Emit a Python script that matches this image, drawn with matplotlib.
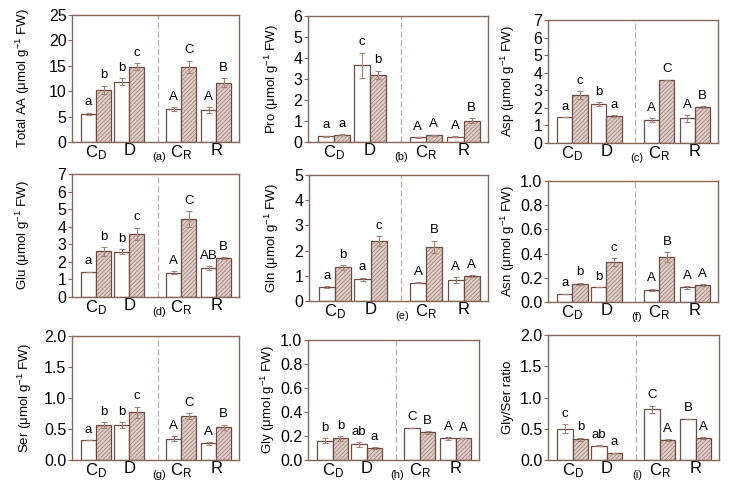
"""Amino acid panels (a)-(i): white = control, hatched = treatment."""
import matplotlib
matplotlib.use("Agg")
import matplotlib.pyplot as plt

plt.rcParams["font.family"] = ["Liberation Sans", "DejaVu Sans"]
plt.rcParams["mathtext.fontset"] = "custom"
plt.rcParams["mathtext.rm"] = "Liberation Sans"
plt.rcParams["mathtext.it"] = "Liberation Sans:italic"
plt.rcParams["hatch.linewidth"] = 0.5

GROUPS = [r"$\mathregular{C_D}$", "D", r"$\mathregular{C_R}$", "R"]
GROUP_X = [1.0, 2.0, 3.55, 4.6]
DIVIDER_X = 2.85

# (a) Total AA
total_white = [5.6, 11.9, 6.5, 6.3]
total_white_err = [0.2, 0.7, 0.3, 0.5]
total_hatch = [10.3, 14.8, 14.8, 11.7]
total_hatch_err = [0.8, 0.7, 1.2, 0.8]
total_letters = ["a", "b", "b", "c", "A", "C", "A", "B"]

# (b) Pro
pro_white = [0.27, 3.65, 0.22, 0.25]
pro_white_err = [0.02, 0.6, 0.02, 0.03]
pro_hatch = [0.35, 3.2, 0.32, 1.02]
pro_hatch_err = [0.02, 0.2, 0.03, 0.1]
pro_letters = ["a", "a", "c", "b", "A", "A", "A", "B"]

# (c) Asp
asp_white = [1.47, 2.22, 1.3, 1.4]
asp_white_err = [0.0, 0.1, 0.1, 0.2]
asp_hatch = [2.75, 1.55, 3.6, 2.05]
asp_hatch_err = [0.22, 0.05, 0.0, 0.05]
asp_letters = ["a", "c", "b", "a", "A", "C", "A", "B"]

# (d) Glu
glu_white = [1.45, 2.58, 1.38, 1.65]
glu_white_err = [0.0, 0.15, 0.08, 0.12]
glu_hatch = [2.6, 3.6, 4.45, 2.2]
glu_hatch_err = [0.25, 0.35, 0.45, 0.05]
glu_letters = ["a", "b", "b", "c", "A", "C", "AB", "B"]

# (e) Gln
gln_white = [0.55, 0.86, 0.73, 0.82]
gln_white_err = [0.03, 0.07, 0.02, 0.12]
gln_hatch = [1.33, 2.37, 2.15, 1.0]
gln_hatch_err = [0.1, 0.2, 0.25, 0.03]
gln_letters = ["a", "b", "a", "c", "A", "B", "A", "A"]

# (f) Asn
asn_white = [0.07, 0.12, 0.10, 0.12]
asn_white_err = [0.0, 0.0, 0.01, 0.01]
asn_hatch = [0.15, 0.33, 0.37, 0.14]
asn_hatch_err = [0.01, 0.03, 0.04, 0.01]
asn_letters = ["a", "b", "b", "c", "A", "B", "A", "A"]

# (g) Ser
ser_white = [0.32, 0.56, 0.34, 0.27]
ser_white_err = [0.0, 0.05, 0.04, 0.02]
ser_hatch = [0.56, 0.77, 0.71, 0.53]
ser_hatch_err = [0.05, 0.09, 0.05, 0.04]
ser_letters = ["a", "b", "b", "c", "A", "C", "A", "B"]

# (h) Gly
gly_white = [0.16, 0.13, 0.27, 0.18]
gly_white_err = [0.02, 0.02, 0.0, 0.01]
gly_hatch = [0.18, 0.10, 0.23, 0.18]
gly_hatch_err = [0.02, 0.005, 0.01, 0.0]
gly_letters = ["b", "b", "ab", "a", "C", "B", "A", "A"]

# (i) Gly/Ser ratio
ratio_white = [0.50, 0.23, 0.81, 0.66]
ratio_white_err = [0.07, 0.01, 0.06, 0.0]
ratio_hatch = [0.33, 0.12, 0.32, 0.35]
ratio_hatch_err = [0.03, 0.0, 0.01, 0.02]
ratio_letters = ["c", "b", "ab", "a", "C", "A", "B", "A"]

UNIT = r" ($\mathregular{\mu}$mol g$^{\mathregular{-1}}$ FW)"

PANELS = [
    # label, ylabel, ymax, step, white, white_err, hatch, hatch_err, letters,
    # axes box in px (left, top, right, bottom), ylabel centre distance px
    ("(a)", "Total AA" + UNIT, 25, 5, total_white, total_white_err, total_hatch, total_hatch_err, total_letters, (72, 15, 239, 142), 49),
    ("(b)", "Pro" + UNIT, 6, 1, pro_white, pro_white_err, pro_hatch, pro_hatch_err, pro_letters, (308, 16, 488, 142), 36),
    ("(c)", "Asp" + UNIT, 7, 1, asp_white, asp_white_err, asp_hatch, asp_hatch_err, asp_letters, (548, 20, 718, 143), 40),
    ("(d)", "Glu" + UNIT, 7, 1, glu_white, glu_white_err, glu_hatch, glu_hatch_err, glu_letters, (72, 174, 239, 297), 49),
    ("(e)", "Gln" + UNIT, 5, 1, gln_white, gln_white_err, gln_hatch, gln_hatch_err, gln_letters, (309, 175, 488, 301), 37),
    ("(f)", "Asn" + UNIT, 1.0, 0.2, asn_white, asn_white_err, asn_hatch, asn_hatch_err, asn_letters, (548, 181, 718, 302), 40),
    ("(g)", "Ser" + UNIT, 2.0, 0.5, ser_white, ser_white_err, ser_hatch, ser_hatch_err, ser_letters, (72, 336, 239, 460), 47),
    ("(h)", "Gly" + UNIT, 1.0, 0.2, gly_white, gly_white_err, gly_hatch, gly_hatch_err, gly_letters, (308, 340, 479, 460), 40),
    ("(i)", "Gly/Ser ratio", 2.0, 0.5, ratio_white, ratio_white_err, ratio_hatch, ratio_hatch_err, ratio_letters, (548, 335, 719, 460), 40),
]

W, H = 730, 494
SPINE = "#85665a"
EDGE = "#6e4c42"
HATCH_FACE = "#dccbc4"
HATCH_LINE = "#a0837a"
ERR = "#a48478"
BAR_W = 0.45

fig = plt.figure(figsize=(W / 100, H / 100), dpi=100)

for label, ylabel, ymax, step, wv, we, hv, he, letters, (x0, y0, x1, y1), lab_d in PANELS:
    ax = fig.add_axes([x0 / W, 1 - y1 / H, (x1 - x0) / W, (y1 - y0) / H])
    xw = [g - BAR_W / 2 for g in GROUP_X]
    xh = [g + BAR_W / 2 for g in GROUP_X]
    ax.bar(xw, wv, BAR_W, color="white", edgecolor=EDGE, linewidth=0.9, zorder=2)
    # hatch drawn in a lighter tone, then the dark outline on top
    ax.bar(xh, hv, BAR_W, color=HATCH_FACE, edgecolor=HATCH_LINE, linewidth=0,
           hatch="////////", zorder=2)
    ax.bar(xh, hv, BAR_W, fill=False, edgecolor=EDGE, linewidth=0.9, zorder=2)
    ax.errorbar(xw, wv, yerr=we, fmt="none", ecolor=ERR, elinewidth=0.8,
                capsize=2, capthick=0.8, zorder=3)
    ax.errorbar(xh, hv, yerr=he, fmt="none", ecolor=ERR, elinewidth=0.8,
                capsize=2, capthick=0.8, zorder=3)

    # significance letters: per group white then hatched
    pad = ymax * 0.035
    xs, tops = [], []
    for i in range(4):
        xs += [xw[i], xh[i]]
        tops += [wv[i] + we[i], hv[i] + he[i]]
    for x, top, txt in zip(xs, tops, letters):
        ax.text(x, top + pad, txt, ha="center", va="bottom", fontsize=9.5)

    ax.axvline(DIVIDER_X, color="#c9a9a6", linewidth=0.9, linestyle=(0, (5, 2)), zorder=1)

    ax.set_xlim(0.28, 5.28)
    ax.set_ylim(0, ymax)
    n = int(round(ymax / step))
    ticks = [step * k for k in range(n + 1)]
    ax.set_yticks(ticks)
    if step < 1:
        ax.set_yticklabels([f"{t:.1f}" for t in ticks])
    ax.set_xticks(GROUP_X)
    ax.set_xticklabels(GROUPS)
    ax.tick_params(axis="x", length=0, labelsize=12, pad=1)
    ax.tick_params(axis="y", length=3, width=0.8, color=SPINE, labelsize=11.5, pad=1)
    for s in ax.spines.values():
        s.set_color(SPINE)
        s.set_linewidth(1.0)
    ax.set_ylabel(ylabel, fontsize=9.5)
    ax.yaxis.label.set_verticalalignment("center")
    ax.yaxis.set_label_coords(-lab_d / (x1 - x0), 0.5)
    ax.annotate(label, xy=(0.52, 0), xycoords="axes fraction", xytext=(0, -7.5),
                textcoords="offset points", ha="center", va="top", fontsize=8)

fig.savefig("out.png", dpi=100)
